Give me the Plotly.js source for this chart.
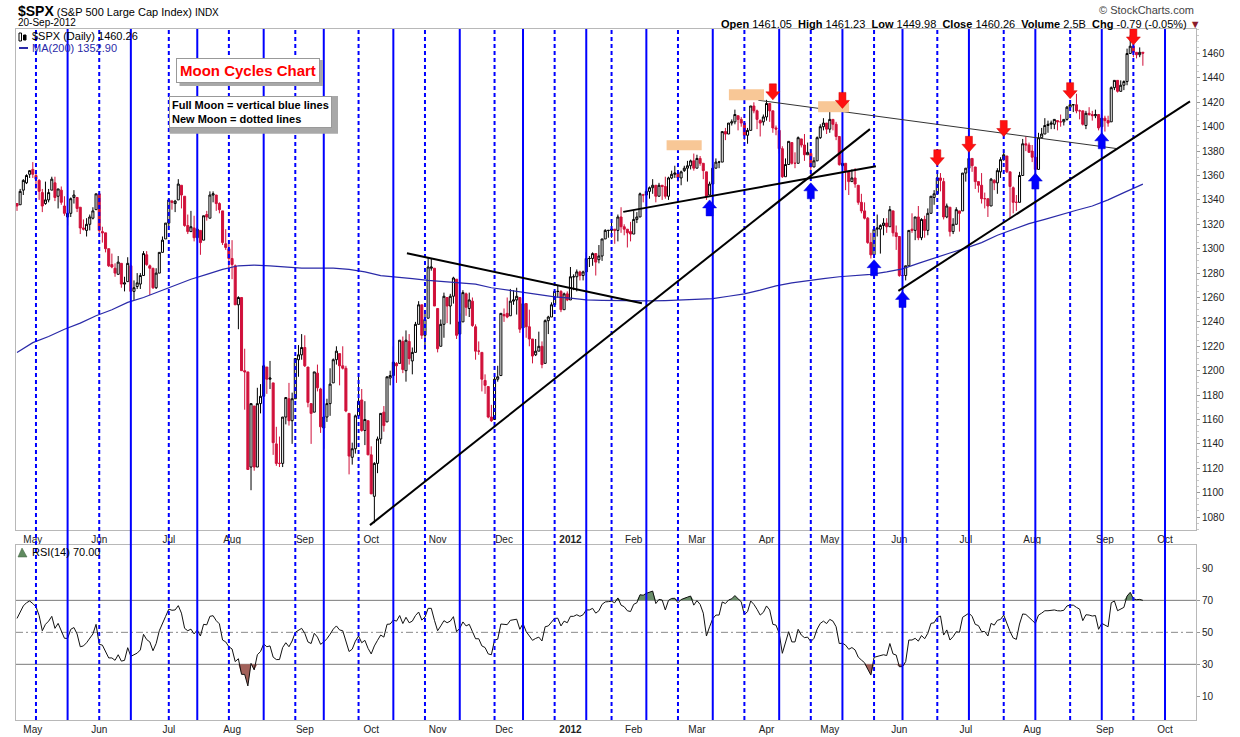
<!DOCTYPE html>
<html><head><meta charset="utf-8">
<script src="https://cdn.plot.ly/plotly-3.0.1.min.js"></script>
<style>html,body{margin:0;padding:0;background:#fff}</style>
</head><body><div id="chart" style="width:1240px;height:737px"></div>
<script>
// ---------- DATA (S&P 500 daily, 25-Apr-2011 .. 20-Sep-2012) ----------
const open = [
1337,1336,1348,1354,1361,
1365,1360,1356,1346,1337,1340,1348,1354,1343,1348,1335,1326,1329,1342,1342,1334,1317,1315,1320,1325,1332,
1345,1314,1313,1300,1287,1284,1279,1288,1271,1273,1286,1265,1269,1271,1278,1295,1286,1284,1268,1280,1297,1308,
1321,1339,1337,1340,1352,1343,1319,1314,1317,1309,1315,1307,1328,1325,1344,1344,1337,1331,1304,1300,
1292,1286,1254,1260,1200,1199,1121,1171,1121,1173,1179,1203,1193,1190,1140,1124,1124,1162,1177,1159,1177,1209,1213,
1219,1203,1173,1166,1198,1185,1153,1162,1173,1190,1209,1214,1204,1202,1165,1129,1136,1163,1176,1151,1159,
1131,1097,1124,1144,1166,1158,1194,1196,1206,1206,1224,1200,1224,1208,1215,1238,1254,1229,1243,1284,1284,
1251,1220,1238,1260,1253,1261,1275,1230,1240,1263,1251,1257,1236,1216,1215,1192,1187,1162,1160,1193,1196,
1246,1247,1245,1257,1258,1260,1235,1255,1236,1226,1213,1216,1220,1206,1241,1244,1254,1265,1265,1250,1263,
1258,1277,1277,1281,1278,1281,1292,1292,1296,1291,1294,1308,1315,1315,1316,1315,1326,1318,1316,1314,
1312,1324,1326,1344,1344,1347,1350,1352,1343,1352,1351,1343,1358,1361,1362,1358,1364,1366,1368,1372,
1366,1374,1370,1363,1344,1353,1366,1371,1371,1396,1394,1403,1404,1409,1406,1403,1393,1397,1417,1413,1405,1404,
1408,1419,1413,1399,1397,1382,1359,1369,1387,1370,1370,1390,1385,1377,1378,1367,1372,1391,1400,1403,
1398,1406,1402,1392,1368,1370,1363,1355,1358,1352,1338,1331,1325,1305,1295,1316,1316,1319,1321,1318,1331,1313,
1310,1278,1278,1286,1316,1315,1326,1309,1324,1315,1329,1342,1345,1358,1355,1326,1334,1314,1320,1331,1331,
1362,1366,1374,1367,1355,1352,1341,1341,1335,1356,1354,1363,1373,1376,1363,1350,1338,1338,1360,1386,1385,
1380,1375,1365,1391,1394,1401,1402,1402,1405,1404,1404,1406,1416,1418,1418,1413,1413,1401,1411,1410,1409,1410,1400,
1407,1405,1404,1432,1438,1429,1434,1437,1460,1466,1461,1459,1461.05];
const high = [
1337,1349,1357,1361,1364,
1371,1362,1357,1349,1355,1349,1359,1359,1349,1351,1343,1332,1342,1348,1342,1334,1324,1325,1328,1334,1345,
1345,1318,1313,1300,1296,1288,1294,1288,1277,1293,1286,1274,1280,1280,1298,1298,1287,1284,1284,1297,1310,1321,
1341,1340,1340,1357,1352,1343,1328,1331,1327,1318,1315,1327,1331,1347,1347,1344,1338,1331,1316,1304,
1307,1287,1261,1260,1218,1199,1173,1171,1186,1189,1205,1203,1208,1190,1154,1146,1162,1178,1190,1182,1210,1221,1230,
1229,1203,1173,1199,1205,1186,1163,1177,1202,1210,1220,1214,1220,1204,1165,1141,1164,1195,1185,1175,1159,
1138,1125,1146,1165,1171,1195,1200,1220,1207,1225,1228,1233,1230,1219,1240,1257,1254,1247,1293,1292,1284,
1251,1242,1264,1260,1263,1277,1275,1247,1266,1264,1264,1260,1238,1224,1215,1197,1187,1172,1197,1204,1247,
1251,1260,1267,1266,1268,1260,1258,1255,1250,1226,1226,1232,1224,1242,1245,1256,1265,1270,1266,1264,1265,
1285,1279,1283,1282,1282,1297,1294,1297,1296,1303,1308,1316,1315,1322,1316,1328,1334,1320,1316,1322,
1331,1330,1346,1345,1349,1351,1357,1352,1354,1352,1359,1359,1364,1368,1363,1364,1368,1372,1373,1378,
1377,1376,1370,1363,1355,1369,1374,1372,1396,1399,1403,1406,1414,1409,1408,1403,1399,1417,1420,1414,1406,1410,
1422,1419,1413,1401,1397,1384,1374,1388,1387,1379,1392,1390,1394,1387,1378,1375,1392,1402,1407,1403,
1415,1406,1404,1392,1374,1370,1364,1365,1366,1352,1345,1338,1326,1313,1316,1328,1320,1325,1325,1335,1331,1319,
1310,1282,1286,1315,1329,1326,1335,1325,1327,1333,1343,1348,1363,1362,1358,1337,1334,1325,1334,1331,1362,
1366,1374,1374,1367,1355,1362,1346,1341,1358,1357,1366,1375,1381,1376,1363,1351,1344,1363,1390,1392,1387,
1385,1382,1395,1399,1407,1405,1405,1406,1405,1410,1406,1417,1419,1418,1427,1414,1413,1413,1416,1413,1414,1410,1414,
1409,1409,1433,1438,1438,1438,1438,1464,1475,1466,1461,1465,1461.23];
const low = [
1331,1336,1344,1353,1358,
1358,1349,1340,1330,1336,1338,1348,1339,1333,1336,1327,1319,1326,1337,1330,1312,1315,1310,1315,1324,1332,
1313,1305,1297,1285,1284,1277,1279,1268,1265,1273,1262,1258,1267,1267,1278,1286,1262,1267,1267,1280,1297,1308,
1318,1332,1330,1340,1333,1318,1312,1314,1306,1307,1295,1307,1323,1325,1338,1331,1329,1303,1299,1282,
1275,1254,1234,1200,1168,1119,1102,1118,1121,1165,1179,1181,1185,1131,1122,1121,1121,1156,1155,1140,1177,1195,1209,
1203,1170,1140,1166,1183,1149,1136,1158,1163,1190,1205,1188,1201,1166,1115,1123,1132,1163,1150,1139,1131,
1099,1075,1116,1140,1150,1158,1188,1196,1190,1206,1198,1191,1205,1197,1215,1238,1226,1217,1243,1282,1253,
1215,1220,1227,1239,1238,1255,1226,1230,1240,1245,1244,1236,1209,1213,1183,1181,1161,1158,1160,1191,1196,
1240,1243,1245,1254,1246,1231,1235,1227,1220,1206,1212,1216,1202,1206,1230,1244,1254,1260,1248,1250,1257,
1258,1266,1265,1274,1274,1281,1285,1286,1278,1288,1290,1308,1309,1309,1304,1306,1313,1311,1301,1306,
1312,1321,1326,1338,1335,1341,1345,1338,1343,1340,1341,1340,1357,1358,1355,1352,1363,1355,1365,1364,
1366,1368,1357,1340,1344,1353,1366,1366,1371,1389,1394,1401,1402,1397,1400,1389,1386,1397,1411,1398,1392,1401,
1405,1404,1395,1393,1378,1358,1359,1369,1369,1366,1370,1383,1372,1377,1358,1367,1372,1390,1397,1394,
1395,1397,1389,1368,1366,1348,1344,1355,1350,1336,1329,1324,1304,1292,1295,1310,1296,1311,1313,1318,1310,1299,
1277,1267,1274,1286,1313,1307,1307,1307,1309,1311,1329,1336,1345,1347,1324,1325,1310,1312,1320,1314,1331,
1355,1366,1363,1349,1346,1337,1333,1326,1335,1348,1345,1358,1372,1362,1325,1329,1331,1338,1360,1380,1379,
1371,1355,1365,1391,1394,1395,1398,1398,1397,1400,1401,1405,1415,1412,1411,1406,1401,1398,1409,1405,1407,1397,1398,
1396,1400,1404,1430,1428,1429,1430,1434,1460,1457,1456,1457,1449.98];
const close = [
1335,1347,1356,1360,1364,
1361,1357,1347,1335,1340,1346,1357,1342,1349,1338,1329,1329,1341,1344,1333,1317,1316,1320,1326,1331,1345,
1315,1313,1300,1286,1285,1280,1289,1271,1272,1288,1265,1268,1272,1278,1296,1287,1284,1268,1280,1297,1307,1321,
1340,1338,1339,1353,1344,1319,1314,1318,1309,1316,1305,1327,1326,1344,1345,1337,1332,1305,1301,1292,
1287,1254,1260,1200,1199,1119,1173,1121,1173,1179,1204,1193,1194,1141,1124,1124,1162,1178,1159,1177,1210,1213,1219,
1204,1174,1165,1199,1186,1154,1162,1173,1189,1209,1216,1204,1202,1167,1130,1136,1163,1175,1151,1160,1131,
1099,1124,1144,1165,1155,1195,1196,1207,1204,1225,1201,1225,1210,1215,1238,1254,1229,1242,1285,1285,1253,
1218,1238,1261,1253,1261,1276,1229,1240,1264,1252,1258,1237,1216,1216,1193,1188,1162,1159,1193,1195,1247,
1245,1244,1257,1258,1261,1234,1255,1236,1226,1212,1216,1220,1205,1241,1244,1254,1265,1265,1250,1263,1258,
1277,1277,1281,1278,1281,1292,1292,1296,1289,1294,1308,1315,1315,1316,1315,1326,1318,1316,1313,1312,
1324,1326,1345,1344,1347,1350,1352,1343,1352,1351,1343,1358,1361,1362,1358,1363,1366,1368,1372,1366,
1374,1370,1364,1343,1353,1366,1371,1371,1396,1394,1403,1404,1410,1406,1403,1393,1397,1417,1413,1406,1403,1408,
1419,1413,1399,1398,1382,1359,1369,1388,1370,1370,1391,1385,1377,1379,1367,1372,1391,1400,1403,1398,
1406,1402,1392,1369,1370,1364,1355,1358,1353,1338,1331,1325,1305,1295,1316,1317,1319,1321,1318,1332,1313,1310,
1278,1278,1286,1315,1315,1326,1309,1324,1315,1329,1343,1345,1358,1356,1326,1335,1314,1320,1332,1329,1362,
1366,1374,1368,1355,1352,1341,1341,1335,1357,1354,1364,1373,1377,1363,1351,1338,1338,1360,1386,1385,1379,
1375,1365,1391,1394,1401,1402,1403,1406,1404,1404,1406,1416,1418,1418,1413,1413,1402,1411,1410,1409,1410,1399,1407,
1405,1403,1432,1438,1429,1434,1437,1460,1466,1461,1459,1461,1460.26];
const rsi14 = [
58.7,63,66.5,68.5,69.6,68,66,60.5,51,55,
57,60,52.5,55.6,51,46.3,46.2,51.9,53,49,
41,41.5,43.5,46.5,49,55,42.5,42,38,34,
34,32.5,36,32,32.5,40.4,35,35.8,37,39,
48.75,45.5,44,38.5,43,51,55,60,64.5,63.8,
64,66.7,62,52.5,51,52,49,51.5,47.7,55,
54.7,60,60.4,57.3,55.3,45.2,44,41,39.6,31.7,
33.5,23.75,23.7,16.5,30.6,26.5,36,38,42.7,41,
41.5,34.5,33,33,40.5,43.5,41,44.6,50,51,
52.5,49.4,44,43,49.4,47,42.5,44,46,48.8,
52,54,51.5,51,45,38,39.5,44.5,47.7,43.5,
45,40,36.5,41.5,45,48.3,47,55,55.2,57.7,
57,60.5,55.5,59.4,56,57,60.5,62.7,57.7,59.5,
65,65,57.5,51,54,57.3,56,57,59.8,50.4,
52.5,56.5,54,55,50.5,46,46,41.5,40.5,36.5,
36,45.2,45.7,55.2,55,54.8,57.5,57.7,58.2,51.9,
55.5,50.5,48,45,46.2,47,44.6,53.5,54,56.3,
58.75,58.8,54,57,56,60,60,61,60,61,
64,64,65,62,63.5,67.5,69,69.2,69.4,68.5,
71.5,67,66,63.5,63,67.5,68.5,73.5,73.2,74.4,
75,75.8,68,70.6,70.2,64,70,71.2,71.3,68.5,
70.5,71.5,72,72.7,67,69.8,67.5,62,47.7,53.5,
58.5,60.8,60.8,69,68,70.2,71,73,71,69,
61,63,69.6,67.5,64.4,60.8,62.5,66.5,64,55,
54.5,49.4,36.9,44,50.4,44,44,51.9,48.3,46.7,
47,44.2,46.25,52,55.6,57,55.5,58.1,57,53.5,
43,43.2,42,39.4,40.5,39,34.5,32.7,31,27,
23.3,34.4,34.8,35.2,36,35.5,43,36.5,35.8,28.5,
28.6,31.7,45.2,45.2,46.25,44.5,48,46,49.4,55.6,
56,59.4,60.2,48.3,51.5,45.2,47.3,50.4,50,59.4,
60.5,62,60,55,54.2,50.5,50.5,47.7,55.6,54.5,
57.5,58.1,60.8,55.5,50.5,46.5,45.6,55.2,61.5,61.2,
59,57.5,55.6,60.8,62,63.5,63.5,63.8,64,63.5,
63.4,63.8,66.5,67,67,65.6,64.5,57.3,61,60.8,
60.2,60.5,51.9,55.6,54.5,53.5,68.5,69.6,63.5,64.5,
65.6,72.7,75,71,70.4,70.6,70];
const maDay = [0,5,10,15,20,25,30,35,40,45,50,55,60,65,70,75,80,85,90,95,100,105,110,115,120,125,130,135,140,145,150,155,160,165,170,175,180,185,190,195,200,205,210,215,220,225,230,235,240,245,250,255,260,265,270,275,280,285,290,295,300,305,310,315,320,325,330,335,340,345,350,355,356];
const ma200 = [1215,1223,1228,1234,1239,1245,1250,1256,1260,1265,1270,1275,1279,1283,1286,1286.5,1286,1285,1284,1284,1284,1283,1281,1278,1277,1275.5,1274,1273,1272,1271,1268,1266,1264,1262,1260.5,1259.5,1258,1257.7,1257.4,1257.2,1257.2,1257.5,1258,1258.4,1259,1261,1263,1266,1269.5,1272,1274,1275.5,1277,1278,1279,1281,1283.5,1288,1292.5,1296.5,1300.5,1305,1311,1316,1320.5,1324,1328,1331.5,1335,1340,1346,1351.5,1352.9];
const fullMoons = ['2011-05-17','2011-06-15','2011-07-15','2011-08-15','2011-09-12','2011-10-12','2011-11-10','2011-12-09','2012-01-10','2012-02-07','2012-03-08','2012-04-09','2012-05-07','2012-06-04','2012-07-03','2012-08-02','2012-08-31','2012-10-01'];
const newMoons = ['2011-05-03','2011-06-01','2011-07-01','2011-07-29','2011-08-29','2011-09-27','2011-10-26','2011-11-28','2011-12-23','2012-01-23','2012-02-22','2012-03-22','2012-04-23','2012-05-21','2012-06-19','2012-07-19','2012-08-17','2012-09-17'];
const holidays = ['2011-05-30','2011-07-04','2011-09-05','2011-11-24','2011-12-26','2012-01-02','2012-01-16','2012-02-20','2012-04-06','2012-05-28','2012-07-04','2012-09-03'];
const monthNames = ['Jan','Feb','Mar','Apr','May','Jun','Jul','Aug','Sep','Oct','Nov','Dec'];
const priceTicks = [1080,1100,1120,1140,1160,1180,1200,1220,1240,1260,1280,1300,1320,1340,1360,1380,1400,1420,1440,1460];
const rsiTicks = [10,30,50,70,90];
// signal marks (trading dates) and price levels where they point
const sellSignals = [['2012-04-04',1422],['2012-05-07',1415],['2012-06-19',1368],['2012-07-03',1379],['2012-07-19',1392],['2012-08-17',1423],['2012-09-17',1467]];
const buySignals = [['2012-03-07',1340],['2012-04-23',1354],['2012-05-21',1291],['2012-06-04',1265],['2012-08-02',1362],['2012-08-31',1395]];

// ---------- calendar (trading days) ----------
function tradingDays(s, e){
  const out=[]; let d=new Date(s+'T00:00:00Z'); const end=new Date(e+'T00:00:00Z');
  while(d<=end){ const w=d.getUTCDay(); const iso=d.toISOString().slice(0,10);
    if(w!==0 && w!==6 && holidays.indexOf(iso)<0) out.push(iso);
    d=new Date(d.getTime()+86400000); }
  return out;
}
const dates = tradingDays('2011-04-25','2012-10-31');
const ix = d => dates.indexOf(d);
const xi = close.map((_,i)=>i);
const tickvals=[], ticktext=[];
for(let i=1;i<dates.length;i++){
  if(dates[i].slice(5,7)!==dates[i-1].slice(5,7)){
    const m=+dates[i].slice(5,7);
    tickvals.push(i); ticktext.push(m===1?'<b>'+dates[i].slice(0,4)+'</b>':monthNames[m-1]);
  }
}

// ---------- pixel helpers for layout decorations ----------
const PX = p => (p-16)/1180, PY = p => (720-p)/691;
const XR=[-0.316,372.8];
const FONT='Liberation Sans, Arial, sans-serif';

const traces = [
  {type:'candlestick', x:xi, open:open, high:high, low:low, close:close, xaxis:'x', yaxis:'y',
   increasing:{line:{color:'#000000',width:1}, fillcolor:'#ffffff'},
   decreasing:{line:{color:'#d0103a',width:1}, fillcolor:'#d0103a'},
   whiskerwidth:0, hoverinfo:'skip', showlegend:false},
  {type:'scatter', mode:'lines', x:maDay, y:ma200, xaxis:'x', yaxis:'y', line:{color:'#2a2aa8',width:1.2}, hoverinfo:'skip'},
  {type:'scatter', mode:'lines', x:xi, y:xi.map(()=>70), xaxis:'x2', yaxis:'y2', line:{width:0}, hoverinfo:'skip'},
  {type:'scatter', mode:'lines', x:xi, y:rsi14.map(v=>Math.max(v,70)), xaxis:'x2', yaxis:'y2', line:{width:0}, fill:'tonexty', fillcolor:'#6b8f6b', hoverinfo:'skip'},
  {type:'scatter', mode:'lines', x:xi, y:xi.map(()=>30), xaxis:'x2', yaxis:'y2', line:{width:0}, hoverinfo:'skip'},
  {type:'scatter', mode:'lines', x:xi, y:rsi14.map(v=>Math.min(v,30)), xaxis:'x2', yaxis:'y2', line:{width:0}, fill:'tonexty', fillcolor:'#a3625b', hoverinfo:'skip'},
  {type:'scatter', mode:'lines', x:xi, y:rsi14, xaxis:'x2', yaxis:'y2', line:{color:'#111111',width:1}, hoverinfo:'skip'}
];

const shapes = [];
// RSI reference lines
shapes.push({type:'line', xref:'paper', yref:'y2', x0:0, x1:1, y0:70, y1:70, line:{color:'#7a7a7a',width:1}, layer:'below'});
shapes.push({type:'line', xref:'paper', yref:'y2', x0:0, x1:1, y0:30, y1:30, line:{color:'#7a7a7a',width:1}, layer:'below'});
shapes.push({type:'line', xref:'paper', yref:'y2', x0:0, x1:1, y0:50, y1:50, line:{color:'#8a8a8a',width:1, dash:'7px,3px,2px,3px'}, layer:'below'});
// moon lines
fullMoons.forEach(d=>{const i=ix(d); shapes.push({type:'line', xref:'x', yref:'paper', x0:i, x1:i, y0:0, y1:1, line:{color:'#0000ff',width:2}, layer:'above'});});
newMoons.forEach(d=>{const i=ix(d); shapes.push({type:'line', xref:'x', yref:'paper', x0:i, x1:i, y0:0, y1:1, line:{color:'#0000ff',width:2,dash:'4px,3px'}, layer:'above'});});
// trend lines
const tl = (x0,y0,x1,y1,w,c)=>shapes.push({type:'line', xref:'x', yref:'y', x0:x0, y0:y0, x1:x1, y1:y1, line:{color:c||'#000',width:w}, layer:'above'});
tl(111.6,1073.4,269.7,1398.0,2);
tl(123.3,1296.3,197.6,1255.3,2);
tl(191.7,1330.2,271.6,1367.6,2);
tl(234.4,1421.7,347.7,1382.1,1,'#333');
tl(278.7,1265.4,370.9,1420.8,2);
// peach highlight boxes
const box = (x0,x1,y0,y1)=>shapes.push({type:'rect', xref:'x', yref:'y', x0:x0, x1:x1, y0:y0, y1:y1, fillcolor:'#f8c796', line:{width:0}, layer:'above'});
box(205.4,216.5,1380.7,1388.9);
box(225.1,236.2,1421.7,1430.7);
box(253.3,263.1,1411.9,1420.9);
// arrows
const DOWN='M 0 0 L -7 8 L -3.5 8 L -3.5 16 L 3.5 16 L 3.5 8 L 7 8 Z';
const UP='M 0 0 L -7 -8 L -3.5 -8 L -3.5 -16 L 3.5 -16 L 3.5 -8 L 7 -8 Z';
sellSignals.forEach(s=>shapes.push({type:'path', xref:'x', yref:'y', xsizemode:'pixel', ysizemode:'pixel', xanchor:ix(s[0]), yanchor:s[1], path:DOWN, fillcolor:'#ff1010', line:{color:'#d00000',width:0.5}, layer:'above'}));
buySignals.forEach(s=>shapes.push({type:'path', xref:'x', yref:'y', xsizemode:'pixel', ysizemode:'pixel', xanchor:ix(s[0]), yanchor:s[1], path:UP, fillcolor:'#0000ff', line:{color:'#0000cc',width:0.5}, layer:'above'}));
// text box shadows
shapes.push({type:'rect', xref:'paper', yref:'paper', x0:PX(179.5), x1:PX(323), y0:PY(86), y1:PY(60), fillcolor:'#a8a8a8', line:{width:0}});
shapes.push({type:'rect', xref:'paper', yref:'paper', x0:PX(169.5), x1:PX(338), y0:PY(133.7), y1:PY(96), fillcolor:'#a8a8a8', line:{width:0}});
// legend icons
shapes.push({type:'rect', xref:'paper', yref:'paper', x0:PX(19), x1:PX(21.5), y0:PY(41), y1:PY(33), line:{color:'#000',width:1}, fillcolor:'#fff'});
shapes.push({type:'rect', xref:'paper', yref:'paper', x0:PX(23.5), x1:PX(26), y0:PY(40), y1:PY(35), line:{color:'#000',width:1}, fillcolor:'#000'});
shapes.push({type:'line', xref:'paper', yref:'paper', x0:PX(19), x1:PX(28), y0:PY(48), y1:PY(48), line:{color:'#2a2aa8',width:2}});
shapes.push({type:'path', xref:'paper', yref:'paper', path:`M ${PX(18)} ${PY(557)} L ${PX(22)} ${PY(548)} L ${PX(27)} ${PY(557)} Z`, fillcolor:'#5f8a5f', line:{color:'#3e5e3e',width:0.5}});

const ann = (x,y,text,opt)=>Object.assign({xref:'paper', yref:'paper', x:PX(x), y:PY(y), text:text, showarrow:false, xanchor:'left', yanchor:'middle', font:{family:FONT,size:11,color:'#000'}}, opt||{});
const annotations = [
  ann(16,11,'<b><span style="font-size:14px">$SPX</span></b> (S&amp;P 500 Large Cap Index) <span style="font-size:10px">INDX</span>'),
  ann(16,23,'20-Sep-2012',{font:{family:FONT,size:10,color:'#000'}}),
  ann(1196,10,'© StockCharts.com',{xanchor:'right', font:{family:FONT,size:11,color:'#444'}}),
  ann(1203,24,'<b>Open</b> 1461.05  <b>High</b> 1461.23  <b>Low</b> 1449.98  <b>Close</b> 1460.26  <b>Volume</b> 2.5B  <b>Chg</b> -0.79 (-0.05%) <span style="color:#8b1c2c">▼</span>',{xanchor:'right'}),
  ann(30,36,'$SPX (Daily) 1460.26'),
  ann(30,48,'MA(200) 1352.90',{font:{family:FONT,size:11,color:'#2a2aa8'}}),
  ann(30,552,'RSI(14) 70.00'),
  ann(248.3,70,'<b>Moon Cycles Chart</b>',{xanchor:'center', font:{family:FONT,size:15,color:'#ff0000'}, bgcolor:'#ffffff', bordercolor:'#999999', borderwidth:1, borderpad:3}),
  ann(250.8,111.8,'<b>Full Moon = vertical blue lines</b><br><b>New Moon = dotted lines</b>',{xanchor:'center', align:'left', font:{family:FONT,size:11,color:'#000'}, bgcolor:'#ffffff', bordercolor:'#999999', borderwidth:1, borderpad:2})
];

const axX = {range:XR, tickvals:tickvals, ticktext:ticktext, ticks:'', showgrid:false, zeroline:false, showline:true, linecolor:'#b8b8b8', mirror:true, tickfont:{family:FONT,size:10,color:'#222'}, fixedrange:true};
const axY = {side:'right', ticks:'outside', ticklen:3, tickcolor:'#999', showgrid:false, zeroline:false, showline:true, linecolor:'#b8b8b8', mirror:true, tickfont:{family:FONT,size:10,color:'#222'}, fixedrange:true};
const layout = {
  width:1240, height:737, margin:{l:16,r:44,t:29,b:17},
  paper_bgcolor:'#ffffff', plot_bgcolor:'#ffffff', showlegend:false,
  font:{family:FONT,size:10,color:'#222'},
  boxgap:0.08,
  xaxis:Object.assign({}, axX, {domain:[0,1], anchor:'y', rangeslider:{visible:false}}),
  yaxis:Object.assign({}, axY, {domain:[0.27496,1], anchor:'x', range:[1069.4,1480.1], tickvals:priceTicks,
    minor:{ticks:'outside', ticklen:2, tickcolor:'#c8c8c8', dtick:5, showgrid:false}}),
  xaxis2:Object.assign({}, axX, {domain:[0,1], anchor:'y2'}),
  yaxis2:Object.assign({}, axY, {domain:[0,0.25326], anchor:'x2', range:[-4.8,104.6], tickvals:rsiTicks}),
  shapes:shapes, annotations:annotations
};
Plotly.newPlot('chart', traces, layout, {displayModeBar:false, staticPlot:true});
</script></body></html>
